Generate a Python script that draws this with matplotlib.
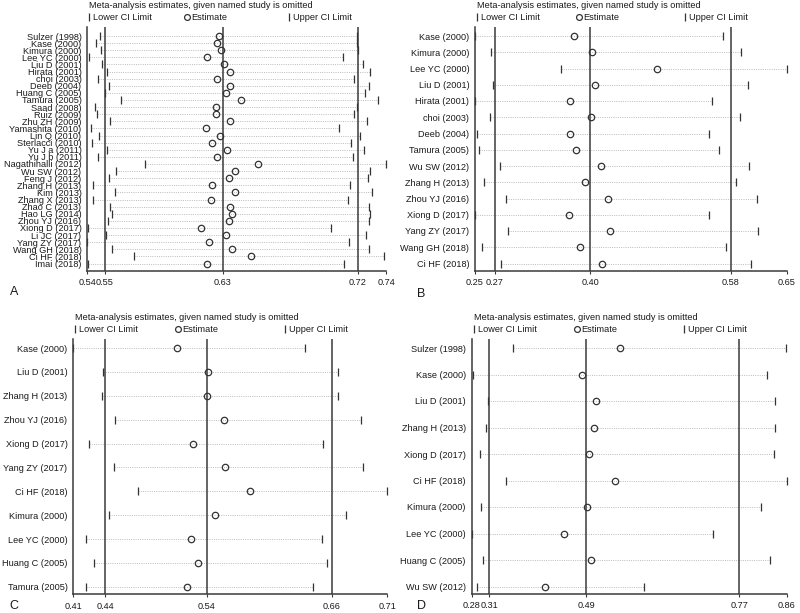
import numpy as np
import matplotlib.pyplot as plt

plt.rcParams['font.family'] = ['Liberation Sans', 'DejaVu Sans']
plt.rcParams['font.size'] = 6.6

title = "Meta-analysis estimates, given named study is omitted"

# panel A
studies_a = ["Sulzer (1998)", "Kase (2000)", "Kimura (2000)", "Lee YC (2000)", "Liu D (2001)",
             "Hirata (2001)", "choi (2003)", "Deeb (2004)", "Huang C (2005)", "Tamura (2005)",
             "Saad (2008)", "Ruiz (2009)", "Zhu ZH (2009)", "Yamashita (2010)", "Lin Q (2010)",
             "Sterlacci (2010)", "Yu J a (2011)", "Yu J b (2011)", "Nagathihalli (2012)",
             "Wu SW (2012)", "Feng J (2012)", "Zhang H (2013)", "Kim (2013)", "Zhang X (2013)",
             "Zhao C (2013)", "Hao LG (2014)", "Zhou YJ (2016)", "Xiong D (2017)", "Li JC (2017)",
             "Yang ZY (2017)", "Wang GH (2018)", "Ci HF (2018)", "Imai (2018)"]
lower_a = [0.5468, 0.5440, 0.5473, 0.5395, 0.5478, 0.5516, 0.5451, 0.5525, 0.5498, 0.5605,
           0.5431, 0.5444, 0.5534, 0.5404, 0.5462, 0.5413, 0.5516, 0.5453, 0.5771, 0.5576,
           0.5527, 0.5422, 0.5567, 0.5417, 0.5536, 0.5549, 0.5522, 0.5386, 0.5504, 0.5381,
           0.5545, 0.5697, 0.5388]
est_a = [0.6266, 0.6250, 0.6278, 0.6188, 0.6297, 0.6338, 0.6253, 0.6340, 0.6311, 0.6412,
         0.6248, 0.6246, 0.6338, 0.6179, 0.6275, 0.6219, 0.6320, 0.6253, 0.6530, 0.6371,
         0.6333, 0.6221, 0.6374, 0.6212, 0.6342, 0.6355, 0.6335, 0.6145, 0.6315, 0.6196,
         0.6353, 0.6483, 0.6186]
upper_a = [0.7191, 0.7196, 0.7198, 0.7097, 0.7236, 0.7281, 0.7173, 0.7274, 0.7247, 0.7333,
           0.7193, 0.7173, 0.7258, 0.7070, 0.7214, 0.7151, 0.7240, 0.7169, 0.7389, 0.7281,
           0.7265, 0.7147, 0.7298, 0.7131, 0.7272, 0.7281, 0.7276, 0.7017, 0.7252, 0.7142,
           0.7276, 0.7377, 0.7106]
pooled_a = [0.5500, 0.6293, 0.7200]

# panel B
studies_b = ["Kase (2000)", "Kimura (2000)", "Lee YC (2000)", "Liu D (2001)", "Hirata (2001)",
             "choi (2003)", "Deeb (2004)", "Tamura (2005)", "Wu SW (2012)", "Zhang H (2013)",
             "Zhou YJ (2016)", "Xiong D (2017)", "Yang ZY (2017)", "Wang GH (2018)", "Ci HF (2018)"]
lower_b = [0.2458, 0.2674, 0.3582, 0.2691, 0.2464, 0.2656, 0.2481, 0.2507, 0.2779, 0.2573,
           0.2866, 0.2464, 0.2888, 0.2551, 0.2792]
est_b = [0.3748, 0.3992, 0.4840, 0.4032, 0.3704, 0.3975, 0.3704, 0.3775, 0.4102, 0.3893,
         0.4198, 0.3691, 0.4224, 0.3835, 0.4124]
upper_b = [0.5705, 0.5945, 0.6540, 0.6029, 0.5561, 0.5932, 0.5522, 0.5657, 0.6046, 0.5876,
           0.6151, 0.5522, 0.6168, 0.5740, 0.6076]
pooled_b = [0.2715, 0.3970, 0.5810]

# panel C
studies_c = ["Kase (2000)", "Liu D (2001)", "Zhang H (2013)", "Zhou YJ (2016)", "Xiong D (2017)",
             "Yang ZY (2017)", "Ci HF (2018)", "Kimura (2000)", "Lee YC (2000)", "Huang C (2005)",
             "Tamura (2005)"]
lower_c = [0.4100, 0.4384, 0.4371, 0.4496, 0.4250, 0.4489, 0.4721, 0.4441, 0.4221, 0.4298, 0.4221]
est_c = [0.5088, 0.5387, 0.5380, 0.5543, 0.5247, 0.5549, 0.5791, 0.5454, 0.5225, 0.5291, 0.5189]
upper_c = [0.6314, 0.6626, 0.6632, 0.6846, 0.6489, 0.6868, 0.7100, 0.6702, 0.6476, 0.6527, 0.6387]
pooled_c = [0.4403, 0.5374, 0.6569]

# panel D
studies_d = ["Sulzer (1998)", "Kase (2000)", "Liu D (2001)", "Zhang H (2013)", "Xiong D (2017)",
             "Ci HF (2018)", "Kimura (2000)", "Lee YC (2000)", "Huang C (2005)", "Wu SW (2012)"]
lower_d = [0.3566, 0.2824, 0.3100, 0.3058, 0.2959, 0.3426, 0.2971, 0.2800, 0.3003, 0.2898]
est_d = [0.5518, 0.4826, 0.5089, 0.5052, 0.4960, 0.5426, 0.4918, 0.4494, 0.4984, 0.4150]
upper_d = [0.8570, 0.8220, 0.8367, 0.8380, 0.8354, 0.8588, 0.8122, 0.7231, 0.8275, 0.5968]
pooled_d = [0.3119, 0.4905, 0.7720]

W, H = 800, 613
line_col = '#3a3a3a'
text_col = '#1a1a1a'


# draw one influence plot into a box given in pixels (left, right, top, bottom)
def forest(fig, box, letter, letter_xy, studies, lower, est, upper, pooled):
    left, right, top, bottom = box
    w, h = right - left, bottom - top
    ax = fig.add_axes([left / W, 1 - bottom / H, w / W, h / H])

    n = len(studies)
    y = np.arange(n)
    ax.hlines(y, lower, upper, colors='#bbbbbb', linestyles=(0, (1, 1.3)), linewidth=0.7)
    for v in pooled:
        ax.axvline(v, color=line_col, lw=1.1)
    ax.plot(lower, y, '|', color='#333333', ms=5.2, mew=0.9, ls='none', clip_on=False)
    ax.plot(upper, y, '|', color='#333333', ms=5.2, mew=0.9, ls='none', clip_on=False)
    ax.plot(est, y, 'o', mfc='none', mec='#333333', ms=4.6, mew=0.9, ls='none', clip_on=False)

    lo, hi = min(lower), max(upper)
    ax.set_xlim(lo, hi)
    ticks = [lo] + list(pooled) + [hi]
    ax.set_xticks(ticks)
    ax.set_xticklabels(["%.2f" % t for t in ticks])

    # keep ~9px above the first row and ~7.5px below the last
    d = (h - 9 - 7.5) / (n - 1)
    ax.set_ylim(n - 1 + 7.5 / d, -9 / d)
    ax.set_yticks(y)
    ax.set_yticklabels(studies)

    for s in ['top', 'right']:
        ax.spines[s].set_visible(False)
    for s in ['left', 'bottom']:
        ax.spines[s].set_color(line_col)
        ax.spines[s].set_linewidth(1.1)
    ax.tick_params(axis='y', length=0, pad=4.2, labelcolor=text_col)
    ax.tick_params(axis='x', length=2.2, width=0.8, color=line_col, pad=3, labelcolor=text_col)

    # title and legend above the plot
    ax.text(2 / w, 1 + 22 / h, title, transform=ax.transAxes, ha='left', va='center', color=text_col)
    ly = 1 + 10 / h
    items = [(2 / w, '|', "Lower CI Limit"), (0.335, 'o', "Estimate"), (0.675, '|', "Upper CI Limit")]
    for fx, m, label in items:
        if m == 'o':
            ax.plot([fx], [ly], 'o', mfc='none', mec='#333333', ms=4.2, mew=0.9,
                    transform=ax.transAxes, clip_on=False)
        else:
            ax.plot([fx], [ly], '|', color='#333333', ms=5.2, mew=0.9,
                    transform=ax.transAxes, clip_on=False)
        ax.text(fx + 4 / w, ly, label, transform=ax.transAxes, ha='left', va='center', color=text_col)

    fig.text(letter_xy[0] / W, 1 - letter_xy[1] / H, letter, fontsize=9, color=text_col,
             ha='center', va='center')
    return ax


fig = plt.figure(figsize=(8, 6.13), dpi=100)
forest(fig, (87.3, 386, 27, 271), "A", (14, 292), studies_a, lower_a, est_a, upper_a, pooled_a)
forest(fig, (475, 786.7, 27, 271), "B", (421, 294), studies_b, lower_b, est_b, upper_b, pooled_b)
forest(fig, (73.3, 387.3, 339, 594.3), "C", (14, 606), studies_c, lower_c, est_c, upper_c, pooled_c)
forest(fig, (471.7, 786.7, 339, 594), "D", (421, 606), studies_d, lower_d, est_d, upper_d, pooled_d)
fig.savefig("out.png", dpi=100)
